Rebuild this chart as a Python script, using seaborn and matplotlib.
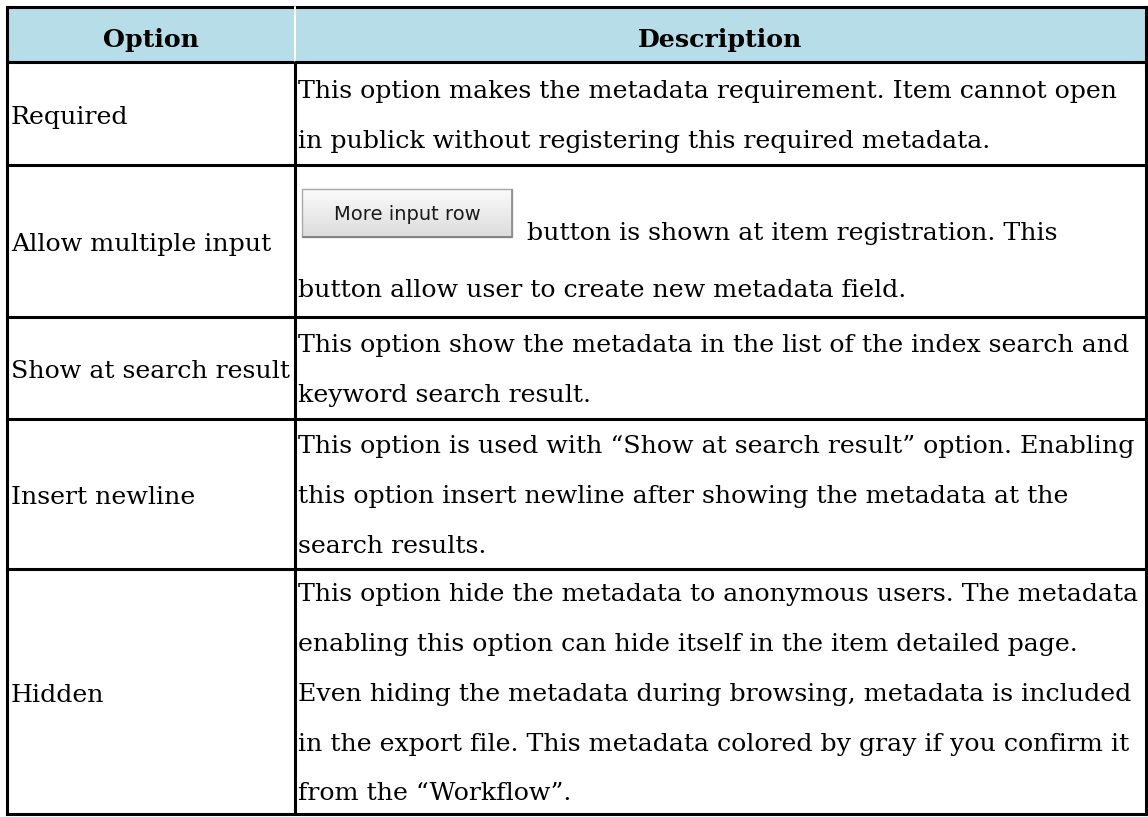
import matplotlib
matplotlib.use("Agg")
import matplotlib.pyplot as plt
import numpy as np
import seaborn as sns
from matplotlib.patches import Rectangle

# ---------------- data ----------------
headers = ["Option", "Description"]
options = ["Required", "Allow multiple input", "Show at search result",
           "Insert newline", "Hidden"]
descriptions = [
    ["This option makes the metadata requirement. Item cannot open",
     "in publick without registering this required metadata."],
    ["button is shown at item registration. This",
     "button allow user to create new metadata field."],
    ["This option show the metadata in the list of the index search and",
     "keyword search result."],
    ["This option is used with \u201cShow at search result\u201d option. Enabling",
     "this option insert newline after showing the metadata at the",
     "search results."],
    ["This option hide the metadata to anonymous users. The metadata",
     "enabling this option can hide itself in the item detailed page.",
     "Even hiding the metadata during browsing, metadata is included",
     "in the export file. This metadata colored by gray if you confirm it",
     "from the \u201cWorkflow\u201d."],
]
button_label = "More input row"
button_row = 1

# ---------------- layout ----------------
W, H = 1148, 817
row_heights = [55, 103, 152, 102, 150, 245]
top = 7
col_edges = [7, 295, 1146]
line_gap = 50
header_bg = "#B7DDE8"
serif = "DejaVu Serif"
fs = 18.2

sns.set_theme(style="white")
plt.rcParams["font.family"] = ["DejaVu Serif", "DejaVu Sans"]

fig = plt.figure(figsize=(W / 100, H / 100), dpi=100)
ax = fig.add_axes([0, 0, 1, 1])
ax.set_xlim(0, W)
ax.set_ylim(H, 0)
ax.axis("off")

row_edges = [top]
for h in row_heights:
    row_edges.append(row_edges[-1] + h)

# header background
ax.add_patch(Rectangle((col_edges[0], row_edges[0]), col_edges[-1] - col_edges[0],
                       row_heights[0], facecolor=header_bg, edgecolor="none", zorder=0))

# header texts
hb = row_edges[0] + 40
for i, htxt in enumerate(headers):
    cx = (col_edges[i] + col_edges[i + 1]) / 2
    ax.text(cx, hb, htxt, ha="center", va="baseline", fontsize=fs,
            fontweight="bold", family=serif, color="black")

# body rows
for r, (opt, lines) in enumerate(zip(options, descriptions)):
    y0 = row_edges[r + 1]
    y1 = row_edges[r + 2]
    cy = (y0 + y1) / 2
    ax.text(col_edges[0] + 4, cy + 10, opt, ha="left", va="baseline",
            fontsize=fs, family=serif, color="black")
    if r == button_row:
        # button
        bx0, bx1, by0, by1 = 302, 512, y0 + 24, y0 + 72
        grad = np.linspace(1.0, 0.0, 64).reshape(-1, 1)
        ax.imshow(grad, extent=(bx0, bx1, by1, by0), cmap=matplotlib.colors.LinearSegmentedColormap.from_list(
            "b", ["#dcdcdc", "#fbfbfb"]), aspect="auto", zorder=1, interpolation="bilinear")
        ax.add_patch(Rectangle((bx0, by0), bx1 - bx0, by1 - by0, facecolor="none",
                               edgecolor="#a8a8a8", lw=1.0, zorder=2))
        ax.plot([bx0 + 1, bx1], [by1, by1], color="#7a7a7a", lw=1.2, zorder=3)
        ax.plot([bx1, bx1], [by0 + 1, by1], color="#8a8a8a", lw=1.2, zorder=3)
        ax.text((bx0 + bx1) / 2, (by0 + by1) / 2 + 1, button_label, ha="center",
                va="center", fontsize=14, family="DejaVu Sans", color="#1a1a1a", zorder=4)
        ax.text(527, y0 + 75, lines[0], ha="left", va="baseline", fontsize=fs,
                family=serif, color="black")
        ax.text(col_edges[1] + 3, y0 + 132, lines[1], ha="left", va="baseline",
                fontsize=fs, family=serif, color="black")
    else:
        n = len(lines)
        for i, ln in enumerate(lines):
            yb = cy + (i - (n - 1) / 2) * line_gap + 9
            ax.text(col_edges[1] + 3, yb, ln, ha="left", va="baseline",
                    fontsize=fs, family=serif, color="black")

# grid lines
lw = 2.2
for k, y in enumerate(row_edges):
    ax.plot([col_edges[0], col_edges[-1]], [y, y], color="black", lw=lw,
            solid_capstyle="projecting", zorder=5)
for k, x in enumerate(col_edges):
    if k == 1:
        ax.plot([x, x], [row_edges[0], row_edges[1]], color="white", lw=1.5, zorder=5)
        ax.plot([x, x], [row_edges[1], row_edges[-1]], color="black", lw=lw, zorder=5)
    else:
        ax.plot([x, x], [row_edges[0], row_edges[-1]], color="black", lw=lw,
                solid_capstyle="projecting", zorder=5)

fig.savefig("out.png", dpi=100)
